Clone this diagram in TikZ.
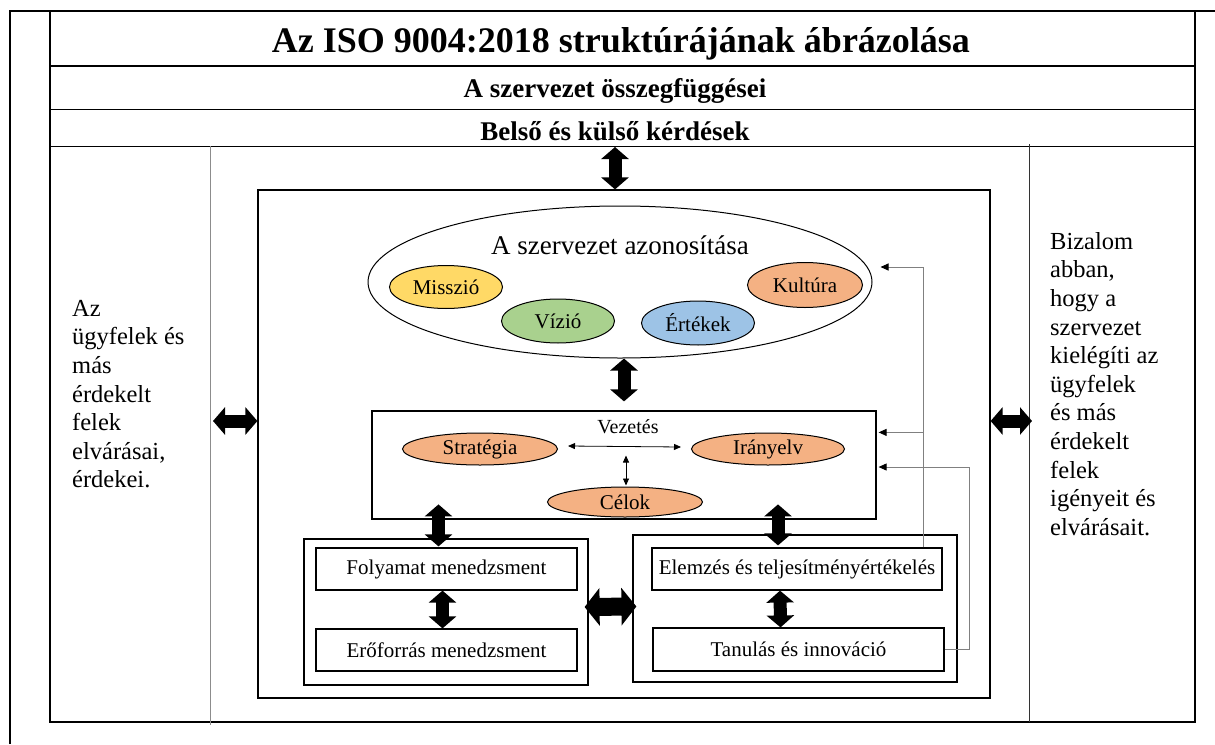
\documentclass[tikz,border=0pt]{standalone}
\usepackage{fontspec}
\setmainfont{Liberation Serif}
\usetikzlibrary{arrows.meta, calc, shapes.geometric}

\definecolor{missiocol}{HTML}{FFD966}
\definecolor{viziocol}{HTML}{A9D18E}
\definecolor{ertekcol}{HTML}{9DC3E6}
\definecolor{orangecol}{HTML}{F4B183}

\begin{document}
\begin{tikzpicture}[x=1pt, y=-1pt,
    rowtext/.style={font=\bfseries\fontsize{27}{30}\selectfont, anchor=base},
    sidetext/.style={font=\fontsize{24.5}{28.6}\selectfont, align=left, anchor=north west, inner sep=0pt},
    blob/.style={ellipse, draw, line width=1pt, inner sep=0pt, font=\fontsize{21}{25}\selectfont},
    panel/.style={rectangle, draw, line width=1.2pt, inner sep=0pt, font=\fontsize{21}{25}\selectfont},
    bigarrow/.style={line width=13pt, {Triangle[length=12pt,width=27pt]}-{Triangle[length=12pt,width=27pt]}},
    widearrow/.style={line width=18pt, {Triangle[length=15pt,width=37pt]}-{Triangle[length=15pt,width=37pt]}},
    thinarrow/.style={line width=0.8pt, {Triangle[length=7pt,width=6pt]}-{Triangle[length=7pt,width=6pt]}},
    feedback/.style={draw=gray, line width=0.9pt, -{Triangle[length=8pt,width=7pt,color=black]}}]
    \useasboundingbox (0,0) rectangle (1215,744);

    % Table frame
    \draw[line width=1.3pt] (10,744) -- (10,11) -- (1215,11);
    \draw[line width=1.3pt] (50,11) rectangle (1195,722);
    \draw[line width=1.2pt] (50,66) -- (1195,66);
    \draw[line width=1pt] (50,109) -- (1195,109);
    \draw[line width=1pt] (50,146) -- (1195,146);
    \draw[line width=1pt, black!45] (210,146) -- (210,725);
    \draw[line width=1pt, black!80] (1029,144) -- (1029,722);

    % Header rows
    \node[rowtext, font=\bfseries\fontsize{36}{40}\selectfont] (title) at (621,52) {Az ISO 9004:2018 struktúrájának ábrázolása};
    \node[rowtext] (context) at (615,97) {A szervezet összegfüggései};
    \node[rowtext] (issues) at (615,140) {Belső és külső kérdések};

    % Side columns
    \node[sidetext] (needs) at (72,300) {Az\\ügyfelek és\\más\\érdekelt\\felek\\elvárásai,\\érdekei.};
    \node[sidetext] (trust) at (1050,232) {Bizalom\\abban,\\hogy a\\szervezet\\kielégíti az\\ügyfelek\\és más\\érdekelt\\felek\\igényeit és\\elvárásait.};

    % Main box
    \node[panel, minimum width=732pt, minimum height=508pt] (mainbox) at (624,444) {};

    % Identity of the organisation
    \node[blob, minimum width=504pt, minimum height=152pt] (ident) at (620,282) {};
    \node[font=\fontsize{27}{30}\selectfont, anchor=base] (identlabel) at (620,254) {A szervezet azonosítása};
    \node[blob, fill=missiocol, minimum width=113pt, minimum height=43pt] (missio) at (446,287) {Misszió};
    \node[blob, fill=viziocol, minimum width=113pt, minimum height=44pt] (vizio) at (558,321) {Vízió};
    \node[blob, fill=ertekcol, minimum width=113pt, minimum height=44pt] (ertek) at (698,323) {Értékek};
    \node[blob, fill=orangecol, minimum width=115pt, minimum height=45pt] (kultura) at (805,285) {Kultúra};

    % Leadership
    \node[panel, minimum width=504pt, minimum height=108pt] (lead) at (624,465) {};
    \node[font=\fontsize{20}{24}\selectfont, anchor=base] (vezetes) at (628,433) {Vezetés};
    \node[blob, fill=orangecol, minimum width=155pt, minimum height=32pt] (strat) at (480,449) {Stratégia};
    \node[blob, fill=orangecol, minimum width=153pt, minimum height=32pt] (iranyelv) at (768,449) {Irányelv};
    \node[blob, fill=orangecol, minimum width=155pt, minimum height=30pt] (celok) at (625,502) {Célok};
    \draw[thinarrow] ($(strat.east)+(10,-3)$) -- ($(iranyelv.west)+(-10,-2)$);
    \draw[thinarrow] ($(celok.north)+(1,-31)$) -- ($(celok.north)+(1,-1)$);

    % Process and resource management
    \node[panel, minimum width=284pt, minimum height=146pt] (procgrp) at (446,612) {};
    \node[panel, minimum width=261pt, minimum height=42pt] (folyamat) at (446.5,569) {Folyamat menedzsment};
    \node[panel, minimum width=261pt, minimum height=42pt] (eroforras) at (446.5,650) {Erőforrás menedzsment};

    % Analysis and learning
    \node[panel, minimum width=324pt, minimum height=147pt] (evalgrp) at (795,608.5) {};
    \node[panel, minimum width=290pt, minimum height=42pt] (elemzes) at (797,569) {Elemzés és teljesítményértékelés};
    \node[panel, minimum width=291pt, minimum height=43pt] (tanulas) at (798.5,649.5) {Tanulás és innováció};

    % Block arrows
    \coordinate (topgap) at (615,147);
    \draw[bigarrow] (topgap) -- (topgap |- mainbox.north);
    \draw[bigarrow] (lead.north |- ident.south) -- ([yshift=9pt]lead.north);
    \coordinate (leftgap) at (213,421);
    \coordinate (rightgap) at (1032,421);
    \draw[bigarrow] (leftgap) -- (mainbox.west |- leftgap);
    \draw[bigarrow] (mainbox.east |- rightgap) -- (rightgap);
    \draw[bigarrow] ($(folyamat.north)+(-8,-43)$) -- ($(folyamat.north)+(-8,-1)$);
    \draw[bigarrow] ($(elemzes.north)+(-19,-43)$) -- ($(elemzes.north)+(-19,-2)$);
    \draw[bigarrow] ($(folyamat.south)+(-4,0)$) -- ($(eroforras.north)+(-4,0)$);
    \draw[bigarrow] ($(elemzes.south)+(-17,0)$) -- ($(tanulas.north)+(-18,0)$);
    \draw[widearrow] ($(procgrp.east)+(-4,-5)$) -- ($(evalgrp.west)+(4,-2)$);

    % Feedback loops
    \coordinate (fbup) at ($(elemzes.north east)+(-19,0)$);
    \coordinate (fbmid) at ($(lead.north east)+(2,22)$);
    \draw[feedback] (fbup) |- ($(ident.east)+(8,-15)$);
    \draw[feedback] (fbup |- fbmid) -- (fbmid);
    \draw[feedback] (tanulas.east) -- ++(25,0) |- ($(lead.east)+(2,2)$);
\end{tikzpicture}
\end{document}
